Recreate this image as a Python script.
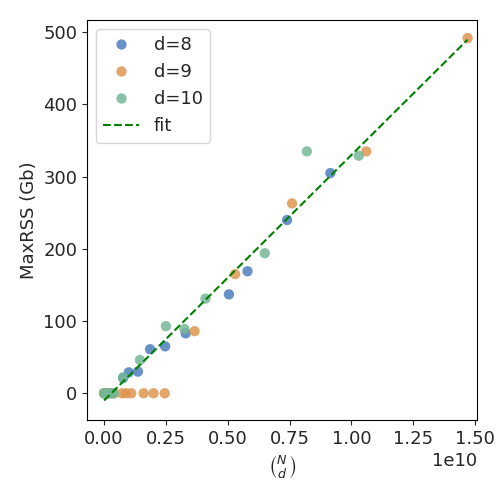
import numpy as np, pandas as pd, seaborn as sns, matplotlib
matplotlib.use("Agg")
import matplotlib.pyplot as plt

x8 = [0.0, 0.01, 0.02, 0.03, 0.077, 0.10, 0.137, 0.186, 0.247, 0.33, 0.505, 0.58, 0.74, 0.915]
y8 = [0, 0, 0, 0, 21, 29, 30, 61, 65, 83, 137, 169, 240, 305]
x9 = [0.0, 0.02, 0.04, 0.073, 0.09, 0.11, 0.16, 0.2, 0.245, 0.366, 0.53, 0.76, 1.06, 1.47]
y9 = [0, 0, 0, 0, 0, 0, 0, 0, 0, 86, 165, 263, 335, 492]
x10 = [0.0, 0.01, 0.03, 0.04, 0.077, 0.145, 0.25, 0.325, 0.41, 0.65, 0.82, 1.03]
y10 = [0, 0, 0, 0, 22, 46, 93, 89, 131, 194, 335, 329]
scale = 1e10
fit_x = [0.0, 1.47]
fit_slope, fit_icpt = 340.0, -10.0

df = pd.concat([
    pd.DataFrame({"x": np.array(x8) * scale, "y": y8, "d": "d=8"}),
    pd.DataFrame({"x": np.array(x9) * scale, "y": y9, "d": "d=9"}),
    pd.DataFrame({"x": np.array(x10) * scale, "y": y10, "d": "d=10"}),
])
sns.set_style("white")
plt.rcParams['font.size'] = 13
fig, ax = plt.subplots(figsize=(5, 5), dpi=100)
pal = ["#4c7ebd", "#e09550", "#74b897"]
sns.scatterplot(data=df, x="x", y="y", hue="d", palette=pal, s=55, alpha=0.85, edgecolor="none", ax=ax)
fx = np.array(fit_x)
ax.plot(fx * scale, fit_slope * fx + fit_icpt, "g--", label="fit")
ax.set_xlabel(r"$\binom{N}{d}$")
ax.set_ylabel("MaxRSS (Gb)")
ax.set_xticks(np.arange(0, 1.51, 0.25) * scale)
ax.set_yticks([0, 100, 200, 300, 400, 500])
ax.set_ylim(-37, 517)
ax.set_xlim(-0.069 * scale, 1.508 * scale)
ax.legend(loc="upper left", fontsize=13)
for s in ax.spines.values():
    s.set_color("black")
ax.tick_params(left=True, bottom=True, labelsize=13)
fig.subplots_adjust(left=0.174, right=0.954, top=0.96, bottom=0.16)
fig.savefig("out.png")
